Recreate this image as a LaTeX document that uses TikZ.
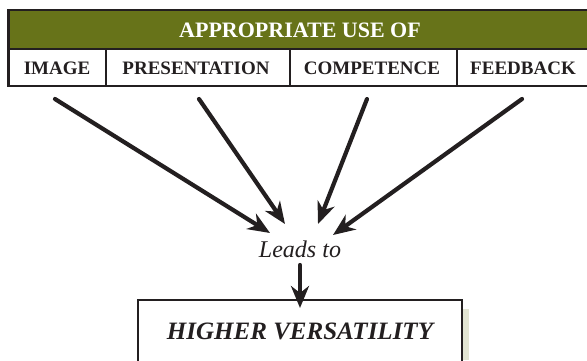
\documentclass[tikz,border=0pt]{standalone}
\usepackage{fontspec}
\setmainfont{Liberation Serif}
\usetikzlibrary{arrows.meta}
\definecolor{olive}{RGB}{103,115,25}
\definecolor{ink}{RGB}{35,31,32}
\definecolor{shadowcol}{RGB}{226,228,210}
\tikzset{
  frame/.style={draw=ink, line width=2.8pt},
  cell/.style={inner sep=0pt, text=ink, font=\fontsize{19}{19}\selectfont\bfseries},
  bigarrow/.style={draw=ink, line width=4.2pt, line cap=round, -{Stealth[length=22pt,width=18pt,inset=7pt]}}
}
\begin{document}
\begin{tikzpicture}[x=1pt,y=-1pt]
\useasboundingbox (0,0) rectangle (587,360);
% header
\fill[olive] (8.7,10) rectangle (600,49);
\draw[frame] (600,10) -- (8.7,10) -- (8.7,86) -- (600,86);
\draw[frame] (8.7,49) -- (600,49);
\draw[frame] (106,49) -- (106,86);
\draw[frame] (290,49) -- (290,86);
\draw[frame] (457,49) -- (457,86);
\node[inner sep=0pt, text=white, font=\fontsize{22}{22}\selectfont\bfseries] (head) at (300,30) {APPROPRIATE USE OF};
\node[cell] (image) at (57,68) {IMAGE};
\node[cell] (pres) at (196,68) {PRESENTATION};
\node[cell] (comp) at (372,68) {COMPETENCE};
\node[cell] (feed) at (523,68) {FEEDBACK};
% leads to
\node[inner sep=0pt, text=ink, font=\fontsize{24}{24}\selectfont\itshape] (leads) at (300,249) {Leads to};
% bottom box
\fill[shadowcol] (463,309) rectangle (469,360);
\draw[frame, fill=white] (138,300) rectangle (462,372);
\node[inner sep=0pt, text=ink, font=\fontsize{25}{25}\selectfont\bfseries\itshape] (result) at (300,331) {HIGHER VERSATILITY};
% arrow coordinates
\coordinate (s1) at (55,99);
\coordinate (s2) at (199,99);
\coordinate (s3) at (367,99);
\coordinate (s4) at (522,99);
\coordinate (e1) at (270,233);
\coordinate (e2) at (285,224);
\coordinate (e3) at (318,224);
\coordinate (e4) at (333,235);
\coordinate (d1) at (300,265);
\coordinate (d2) at (300,308);
\draw[bigarrow] (s1) -- (e1);
\draw[bigarrow] (s2) -- (e2);
\draw[bigarrow] (s3) -- (e3);
\draw[bigarrow] (s4) -- (e4);
\draw[bigarrow] (d1) -- (d2);
\end{tikzpicture}
\end{document}
